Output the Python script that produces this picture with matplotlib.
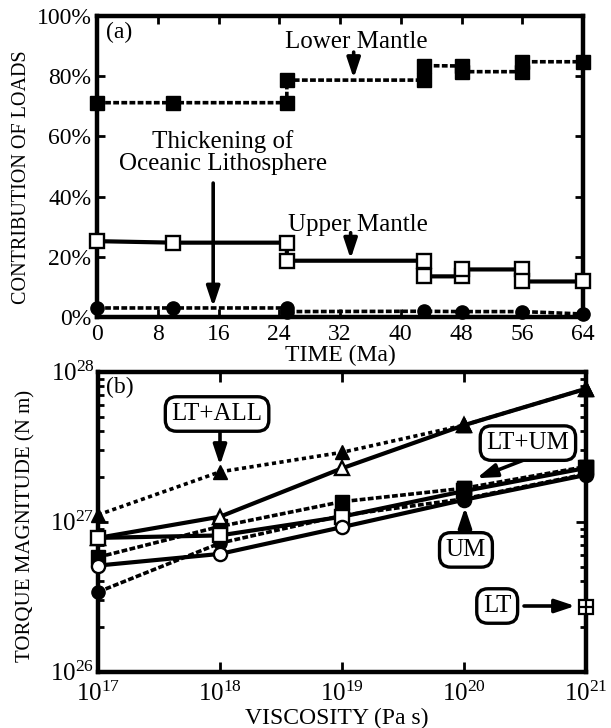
import matplotlib
matplotlib.use('Agg')
import matplotlib.pyplot as plt
from matplotlib.ticker import FixedLocator, LogLocator, NullLocator, FuncFormatter

plt.rcParams['font.family'] = ['Liberation Serif', 'DejaVu Serif']
plt.rcParams['mathtext.fontset'] = 'custom'
plt.rcParams['mathtext.rm'] = 'Liberation Serif'
plt.rcParams['mathtext.it'] = 'Liberation Serif:italic'
plt.rcParams['mathtext.bf'] = 'Liberation Serif:bold'

# ---------------- data: panel (a) ----------------
time_lower = [0, 10, 25, 25, 43, 43, 48, 48, 56, 56, 64]
lower_mantle = [71.2, 71.2, 71.2, 78.7, 78.7, 83.5, 83.4, 81.5, 81.5, 84.8, 84.8]
time_upper = [0, 10, 25, 25, 43, 43, 48, 48, 56, 56, 64]
upper_mantle = [25.2, 24.7, 24.7, 18.7, 18.7, 13.5, 13.5, 15.8, 15.8, 11.8, 11.8]
time_litho = [0, 10, 25, 25, 43, 48, 56, 64]
lithosphere = [3.0, 3.0, 3.0, 1.8, 1.9, 1.8, 1.8, 1.0]
time_ticks = [0, 8, 16, 24, 32, 40, 48, 56, 64]
pct_ticks = [0, 20, 40, 60, 80, 100]

# ---------------- data: panel (b) ----------------
viscosity = [1e17, 1e18, 1e19, 1e20, 1e21]
lt_all_filled_tri = [1.11e27, 2.15e27, 2.9e27, 4.4e27, 7.7e27]
open_tri = [7.8e26, 1.08e27, 2.27e27, 4.4e27, 7.7e27]
filled_sq = [5.8e26, 9.3e26, 1.36e27, 1.67e27, 2.33e27]
open_sq = [7.8e26, 8.1e26, 1.08e27, 1.6e27, 2.28e27]
filled_circ = [3.4e26, 7.2e26, 1.1e27, 1.42e27, 2.08e27]
open_circ = [5.1e26, 6.1e26, 9.2e26, 1.4e27, 2.05e27]
lt_visc = [1e21]
lt_torque = [2.7e26]

W, H = 611, 728
fig = plt.figure(figsize=(W / 100, H / 100), dpi=100)
ax1 = fig.add_axes([97 / W, 1 - 317 / H, (583 - 97) / W, (317 - 16) / H])
ax2 = fig.add_axes([98 / W, 1 - 671.7 / H, (586 - 98) / W, 300 / H])

dash = (1.6, 0.65)
LW_D = 2.6
LW_S = 3.0

# ---------------- panel (a) ----------------
ax1.plot(time_lower, lower_mantle, color='k', lw=LW_D, dashes=dash, marker='s', ms=9.5,
         mfc='k', mec='k', clip_on=False, zorder=3)
ax1.plot(time_upper, upper_mantle, color='k', lw=LW_S, marker='s', ms=9.5,
         mfc='white', mec='k', mew=1.7, clip_on=False, zorder=3)
ax1.plot(time_litho, lithosphere, color='k', lw=LW_D, dashes=dash, marker='o', ms=9.5,
         mfc='k', mec='k', clip_on=False, zorder=3)

ax1.set_xlim(0, 64)
ax1.set_ylim(0, 100)
ax1.xaxis.set_major_locator(FixedLocator(time_ticks))
ax1.yaxis.set_major_locator(FixedLocator(pct_ticks))
ax1.yaxis.set_major_formatter(FuncFormatter(lambda v, p: f"{int(v)}%"))
ax1.tick_params(axis='x', direction='in', length=6, width=2, top=True, labelsize=17, pad=5)
ax1.tick_params(axis='y', direction='in', length=6, width=2, right=True, labelsize=17, pad=4)
for s in ax1.spines.values():
    s.set_linewidth(3.2)
ax1.set_xlabel('TIME (Ma)', fontsize=17)
ax1.xaxis.set_label_coords(0.5, -0.093)
ax1.set_ylabel('CONTRIBUTION OF LOADS', fontsize=14.5)
ax1.yaxis.set_label_coords(-0.135, 0.465)

ax1.text(0.045, 0.944, '(a)', transform=ax1.transAxes, fontsize=17, ha='center', va='center')
arrow_kw = dict(arrowstyle='-|>,head_length=0.6,head_width=0.2', lw=2.6, color='k',
                mutation_scale=20, shrinkA=0, shrinkB=0)
ax1.text(34.2, 91.4, 'Lower Mantle', fontsize=18, ha='center', va='center')
ax1.annotate('', xy=(33.8, 79.3), xytext=(33.8, 88.0), arrowprops=arrow_kw)
ax1.text(16.6, 54.6, 'Thickening of\nOceanic Lithosphere', fontsize=18, ha='center',
         va='center', linespacing=1.0)
ax1.annotate('', xy=(15.3, 3.4), xytext=(15.3, 44.5), arrowprops=arrow_kw)
ax1.text(34.4, 30.6, 'Upper Mantle', fontsize=18, ha='center', va='center')
ax1.annotate('', xy=(33.4, 19.3), xytext=(33.4, 28.0), arrowprops=arrow_kw)

# ---------------- panel (b) ----------------
dot = (1.15, 0.95)
ax2.plot(viscosity, lt_all_filled_tri, color='k', lw=LW_D, dashes=dot, marker='^', ms=10.5,
         mfc='k', mec='k', clip_on=False, zorder=3)
ax2.plot(viscosity, open_tri, color='k', lw=LW_S, marker='^', ms=10.5,
         mfc='white', mec='k', mew=1.7, clip_on=False, zorder=4)
ax2.plot(viscosity, filled_sq, color='k', lw=LW_D, dashes=dash, marker='s', ms=9.5,
         mfc='k', mec='k', clip_on=False, zorder=3)
ax2.plot(viscosity, open_sq, color='k', lw=LW_S, marker='s', ms=9.5,
         mfc='white', mec='k', mew=1.7, clip_on=False, zorder=4)
ax2.plot(viscosity, filled_circ, color='k', lw=LW_D, dashes=dash, marker='o', ms=9.5,
         mfc='k', mec='k', clip_on=False, zorder=3)
ax2.plot(viscosity, open_circ, color='k', lw=LW_S, marker='o', ms=9.5,
         mfc='white', mec='k', mew=1.7, clip_on=False, zorder=4)
# at the two highest viscosities the filled symbols lie on top of the open ones
for vals, mk, ms in [(lt_all_filled_tri, '^', 10.5), (filled_circ, 'o', 9.5), (filled_sq, 's', 9.5)]:
    ax2.plot(viscosity[3:], vals[3:], ls='none', marker=mk, ms=ms, mfc='k', mec='k',
             clip_on=False, zorder=5)
ax2.plot(lt_visc, lt_torque, ls='none', marker='s', ms=9.5, mfc='white', mec='k', mew=1.6,
         clip_on=False, zorder=6)
ax2.plot(lt_visc, lt_torque, ls='none', marker='+', ms=9.5, mec='k', mew=1.6,
         clip_on=False, zorder=7)

ax2.set_xscale('log')
ax2.set_yscale('log')
ax2.set_xlim(1e17, 1e21)
ax2.set_ylim(1e26, 1e28)
ax2.xaxis.set_major_locator(LogLocator(base=10, numticks=10))
ax2.xaxis.set_minor_locator(NullLocator())
ax2.yaxis.set_major_locator(LogLocator(base=10, numticks=10))
ax2.yaxis.set_minor_locator(LogLocator(base=10, subs=range(2, 10), numticks=20))
ax2.tick_params(axis='x', which='major', direction='in', length=7, width=2, top=True,
                labelsize=18, pad=7)
ax2.tick_params(axis='y', which='major', direction='in', length=7, width=2, right=True,
                labelsize=18, pad=2.5)
ax2.tick_params(axis='y', which='minor', direction='in', length=4, width=2, right=True)
for s in ax2.spines.values():
    s.set_linewidth(3.2)
ax2.set_xlabel('VISCOSITY (Pa s)', fontsize=17)
ax2.xaxis.set_label_coords(0.49, -0.122)
ax2.set_ylabel('TORQUE MAGNITUDE (N m)', fontsize=15)
ax2.yaxis.set_label_coords(-0.128, 0.486)

ax2.text(0.045, 0.946, '(b)', transform=ax2.transAxes, fontsize=17, ha='center', va='center')
box = dict(boxstyle='round,pad=0.25,rounding_size=0.45', fc='white', ec='k', lw=2.4)
ax2.text(0.244, 0.859, 'LT+ALL', transform=ax2.transAxes, fontsize=18, ha='center',
         va='center', bbox=box, zorder=8)
ax2.annotate('', xy=(0.25, 0.688), xytext=(0.25, 0.81), xycoords='axes fraction',
             textcoords='axes fraction', arrowprops=arrow_kw)
ax2.text(0.881, 0.762, 'LT+UM', transform=ax2.transAxes, fontsize=18, ha='center',
         va='center', bbox=box, zorder=8)
ax2.annotate('', xy=(0.776, 0.645), xytext=(0.881, 0.711), xycoords='axes fraction',
             textcoords='axes fraction', arrowprops=arrow_kw)
ax2.text(0.754, 0.406, 'UM', transform=ax2.transAxes, fontsize=18, ha='center',
         va='center', bbox=box, zorder=8)
ax2.annotate('', xy=(0.752, 0.548), xytext=(0.752, 0.466), xycoords='axes fraction',
             textcoords='axes fraction', arrowprops=arrow_kw)
ax2.text(0.818, 0.219, 'LT', transform=ax2.transAxes, fontsize=18, ha='center',
         va='center', bbox=box, zorder=8)
ax2.annotate('', xy=(0.978, 0.219), xytext=(0.873, 0.219), xycoords='axes fraction',
             textcoords='axes fraction', arrowprops=arrow_kw)

fig.savefig('out.png', dpi=100)
